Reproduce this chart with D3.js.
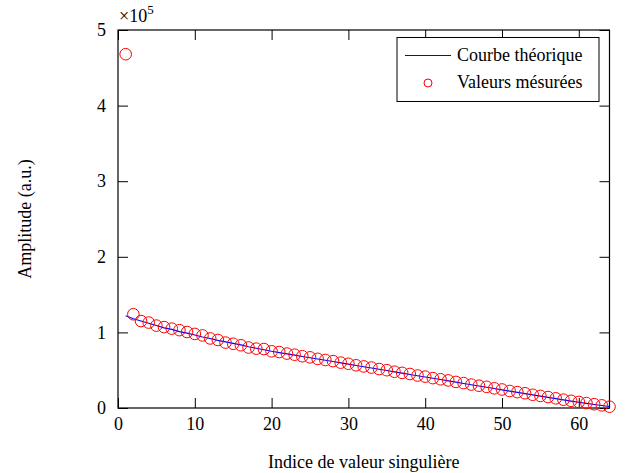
<!DOCTYPE html>
<html>
<head>
<meta charset="utf-8">
<script src="https://cdnjs.cloudflare.com/ajax/libs/d3/7.8.5/d3.min.js"></script>
<style>
  body { margin: 0; background: #fff; }
  svg text { font-family: "Times New Roman", "Liberation Serif", "DejaVu Serif", serif; fill: #000; }
</style>
</head>
<body>
<svg width="627" height="473"></svg>
<script>
// singular value index
const indices = d3.range(1, 65);
// theoretical curve (x1e5)
const theorique = [1.22, 1.18, 1.15, 1.12, 1.09, 1.06, 1.04, 1.01, 0.99, 0.965,
  0.94, 0.92, 0.895, 0.875, 0.855, 0.835, 0.81, 0.79, 0.77, 0.75,
  0.733, 0.716, 0.699, 0.682, 0.665, 0.648, 0.631, 0.614, 0.597, 0.58,
  0.563, 0.546, 0.529, 0.512, 0.495, 0.478, 0.461, 0.444, 0.427, 0.41,
  0.393, 0.376, 0.359, 0.342, 0.325, 0.308, 0.291, 0.274, 0.257, 0.24,
  0.223, 0.207, 0.19, 0.174, 0.157, 0.141, 0.124, 0.108, 0.091, 0.075,
  0.061, 0.047, 0.033, 0.02];
// measured values (x1e5)
const mesures = [4.68, 1.24, 1.15, 1.13, 1.09, 1.07, 1.05, 1.03, 1.005, 0.98,
  0.96, 0.92, 0.90, 0.865, 0.85, 0.83, 0.80, 0.785, 0.78, 0.75,
  0.74, 0.72, 0.705, 0.685, 0.67, 0.65, 0.635, 0.62, 0.60, 0.585,
  0.565, 0.55, 0.535, 0.515, 0.50, 0.48, 0.465, 0.45, 0.43, 0.415,
  0.395, 0.38, 0.365, 0.345, 0.33, 0.31, 0.295, 0.28, 0.26, 0.245,
  0.225, 0.21, 0.195, 0.175, 0.16, 0.145, 0.128, 0.11, 0.095, 0.08,
  0.065, 0.05, 0.035, 0.017];
const xTicks = [0, 10, 20, 30, 40, 50, 60];
const yTicks = [0, 1, 2, 3, 4, 5];
const legendLabels = ["Courbe théorique", "Valeurs mésurées"];

const svg = d3.select('svg');
const m = { left: 118, right: 609.5, top: 30, bottom: 408 };

const x = d3.scaleLinear().domain([0, 64]).range([m.left, m.right]);
const y = d3.scaleLinear().domain([0, 5]).range([m.bottom, m.top]);

// axes (ticks pointing inward on all four sides)
const tl = 10;
svg.append('g').attr('transform', `translate(0,${m.bottom})`)
  .call(d3.axisBottom(x).tickValues(xTicks).tickFormat(d3.format('d'))
    .tickSizeInner(-tl).tickSizeOuter(0).tickPadding(5))
  .call(g => g.selectAll('text').attr('dy', '0.95em').style('font-size', '18px'));
svg.append('g').attr('transform', `translate(0,${m.top})`)
  .call(d3.axisTop(x).tickValues(xTicks).tickSizeInner(-tl).tickSizeOuter(0).tickFormat(''));
svg.append('g').attr('transform', `translate(${m.left},0)`)
  .call(d3.axisLeft(y).tickValues(yTicks).tickFormat(d3.format('d'))
    .tickSizeInner(-tl).tickSizeOuter(0).tickPadding(12))
  .call(g => g.selectAll('text').style('font-size', '18px'));
svg.append('g').attr('transform', `translate(${m.right},0)`)
  .call(d3.axisRight(y).tickValues(yTicks).tickSizeInner(-tl).tickSizeOuter(0).tickFormat(''));
svg.selectAll('.domain').remove();
svg.selectAll('g').attr('font-family', null);
svg.selectAll('.tick line').attr('stroke', '#000');

// frame
svg.append('rect')
  .attr('x', m.left).attr('y', m.top)
  .attr('width', m.right - m.left).attr('height', m.bottom - m.top)
  .attr('fill', 'none').attr('stroke', '#000').attr('stroke-width', 1.2);

// theoretical curve
const line = d3.line().x((d, i) => x(indices[i])).y(d => y(d));
svg.append('path')
  .datum(theorique)
  .attr('d', line)
  .attr('fill', 'none')
  .attr('stroke', '#0000ff')
  .attr('stroke-width', 1.1);

// measured points
svg.append('g').selectAll('circle')
  .data(mesures)
  .join('circle')
  .attr('cx', (d, i) => x(indices[i]))
  .attr('cy', d => y(d))
  .attr('r', 5.8)
  .attr('fill', 'none')
  .attr('stroke', '#ff0000')
  .attr('stroke-width', 1);

// exponent label
const ex = svg.append('text').attr('x', 119).attr('y', 22).style('font-size', '18px');
ex.append('tspan').text('×10');
ex.append('tspan').attr('dy', -8).style('font-size', '13px').text('5');

// axis titles
svg.append('text')
  .attr('x', (m.left + m.right) / 2).attr('y', 468)
  .attr('text-anchor', 'middle')
  .style('font-size', '18px')
  .text('Indice de valeur singulière');
svg.append('text')
  .attr('transform', `translate(31,${(m.top + m.bottom) / 2}) rotate(-90)`)
  .attr('text-anchor', 'middle')
  .style('font-size', '18px')
  .text('Amplitude (a.u.)');

// legend
const leg = svg.append('g');
leg.append('rect')
  .attr('x', 397).attr('y', 37.5).attr('width', 202).attr('height', 64)
  .attr('fill', '#fff').attr('stroke', '#000').attr('stroke-width', 1);
leg.append('line')
  .attr('x1', 405).attr('x2', 451).attr('y1', 55.5).attr('y2', 55.5)
  .attr('stroke', '#0000ff').attr('stroke-width', 1.1);
leg.append('circle')
  .attr('cx', 428).attr('cy', 83).attr('r', 4)
  .attr('fill', 'none').attr('stroke', '#ff0000').attr('stroke-width', 1);
leg.selectAll('text.lab')
  .data(legendLabels)
  .join('text')
  .attr('class', 'lab')
  .attr('x', 457)
  .attr('y', (d, i) => 61 + i * 27)
  .style('font-size', '18px')
  .text(d => d);
</script>
</body>
</html>
